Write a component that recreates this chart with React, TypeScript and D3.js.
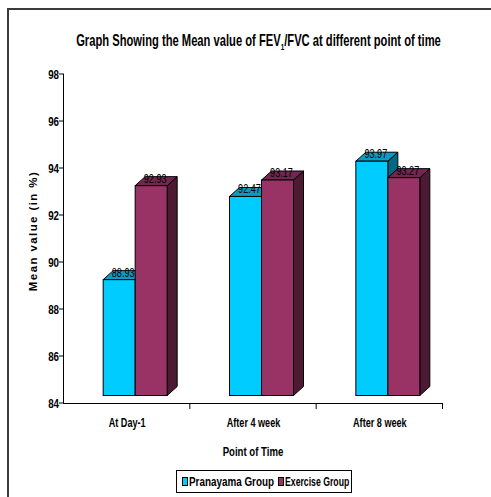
import React from "react";
import * as d3 from "d3";

const categories = ["At Day-1", "After 4 week", "After 8 week"];
const seriesNames = ["Pranayama Group", "Exercise Group"];
const pranayama = [88.93, 92.47, 93.97];
const exercise = [92.93, 93.17, 93.27];
const yTicks = [84, 86, 88, 90, 92, 94, 96, 98];

const W = 491;
const H = 497;
const FONT = "'Liberation Sans', Arial, sans-serif";

// face colours: front, top, side
const palette = [
  { front: "#00CCFF", top: "#0A9CC4", side: "#006A85" },
  { front: "#993366", top: "#732650", side: "#4D1A33" },
];

const DX = 10; // depth offset to the right
const DY = 9; // depth offset upward
const LIFT = 7.5; // front faces sit in front of the back wall

// condensed text: horizontally squeezed around its anchor point
function NText({
  x,
  y,
  sx,
  size,
  bold,
  anchor = "middle",
  children,
}: {
  x: number;
  y: number;
  sx: number;
  size: number;
  bold?: boolean;
  anchor?: "start" | "middle" | "end";
  children: React.ReactNode;
}) {
  return (
    <text
      transform={`translate(${x},${y}) scale(${sx},1)`}
      textAnchor={anchor}
      fontSize={size}
      fontWeight={bold ? "bold" : "normal"}
      fill="#000"
    >
      {children}
    </text>
  );
}

export default function App() {
  const left = 64;
  const right = 443;
  const top = 74;
  const bottom = 403;

  const y = d3.scaleLinear().domain([84, 98]).range([bottom, top]);
  const x = d3.scaleBand<string>().domain(categories).range([left, right]);
  const pairW = 64;
  const x1 = d3.scaleBand<string>().domain(seriesNames).range([0, pairW]);
  const values = [pranayama, exercise];
  const groupX = (cat: string) => (x(cat) as number) + x.bandwidth() / 2 - pairW / 2 + 8;

  const bars: React.ReactNode[] = [];
  const labels: React.ReactNode[] = [];
  categories.forEach((cat, ci) => {
    const gx = groupX(cat);
    seriesNames.forEach((s, si) => {
      const v = values[si][ci];
      const x0 = gx + (x1(s) as number);
      const x2 = x0 + x1.bandwidth();
      const yt = y(v) - LIFT;
      const yb = y(84) - LIFT;
      const c = palette[si];
      bars.push(
        <g key={`${cat}-${s}`}>
          <polygon
            points={`${x2},${yt} ${x2 + DX},${yt - DY} ${x2 + DX},${yb - DY} ${x2},${yb}`}
            fill={c.side}
            stroke="#000"
            strokeWidth={1}
            strokeLinejoin="round"
          />
          <polygon
            points={`${x0},${yt} ${x0 + DX},${yt - DY} ${x2 + DX},${yt - DY} ${x2},${yt}`}
            fill={c.top}
            stroke="#000"
            strokeWidth={1}
            strokeLinejoin="round"
          />
          <rect x={x0} y={yt} width={x2 - x0} height={yb - yt} fill={c.front} stroke="#000" strokeWidth={1} />
        </g>
      );
      labels.push(
        <NText key={`l-${cat}-${s}`} x={(x0 + x2) / 2 + DX / 2 - 1} y={yt - 3} sx={0.7} size={13}>
          {v.toFixed(2)}
        </NText>
      );
    });
  });

  return (
    <div style={{ position: "absolute", left: 0, top: 0 }}>
      <svg width={W} height={H} style={{ display: "block", fontFamily: FONT }}>
        <rect width={W} height={H} fill="#fff" />
        {/* outer frame */}
        <rect x={8} y={9} width={W + 10} height={H + 10} fill="none" stroke="#3a3a3a" strokeWidth={2} />

        {/* title */}
        <NText x={258.5} y={46} sx={0.7} size={16} bold>
          Graph Showing the Mean value of FEV
          <tspan fontSize={9} dy={4}>1</tspan>
          <tspan dy={-4}>/FVC at different point of time</tspan>
        </NText>

        {/* value axis */}
        <line x1={left - 0.5} x2={left - 0.5} y1={top} y2={bottom + 1} stroke="#000" />
        {yTicks.map((t) => (
          <g key={t}>
            <line x1={left - 5} x2={left} y1={y(t)} y2={y(t)} stroke="#000" />
            <NText x={left - 5} y={y(t) + 4.5} sx={0.75} size={13} bold anchor="end">
              {t}
            </NText>
          </g>
        ))}
        <text
          transform={`translate(37, 231) rotate(-90)`}
          textAnchor="middle"
          fontSize={11.5}
          fontWeight="bold"
          letterSpacing={1.4}
          fill="#000"
        >
          Mean value (in %)
        </text>

        {/* category axis */}
        <line x1={left} x2={right} y1={bottom + 0.5} y2={bottom + 0.5} stroke="#000" />
        {[...categories.map((c) => x(c) as number), right].slice(1).map((tx, i) => (
          <line key={i} x1={tx - 0.5} x2={tx - 0.5} y1={bottom} y2={bottom + 6} stroke="#000" />
        ))}
        {categories.map((c) => (
          <NText key={c} x={(x(c) as number) + x.bandwidth() / 2} y={426.5} sx={0.7} size={13} bold>
            {c}
          </NText>
        ))}
        <NText x={253} y={455.5} sx={0.74} size={13} bold>
          Point of Time
        </NText>

        {bars}
        {labels}

        {/* legend */}
        <rect x={176.5} y={470.5} width={175} height={22} fill="#fff" stroke="#000" strokeWidth={1} />
        {seriesNames.map((s, i) => {
          const lx = i === 0 ? 182 : 278;
          const sx = i === 0 ? 0.76 : 0.67;
          return (
            <g key={s}>
              <rect x={lx + 0.5} y={477.5} width={5} height={8} fill={palette[i].front} stroke="#000" />
              <NText x={lx + 7} y={486} sx={sx} size={13} bold anchor="start">
                {s}
              </NText>
            </g>
          );
        })}
      </svg>
    </div>
  );
}
